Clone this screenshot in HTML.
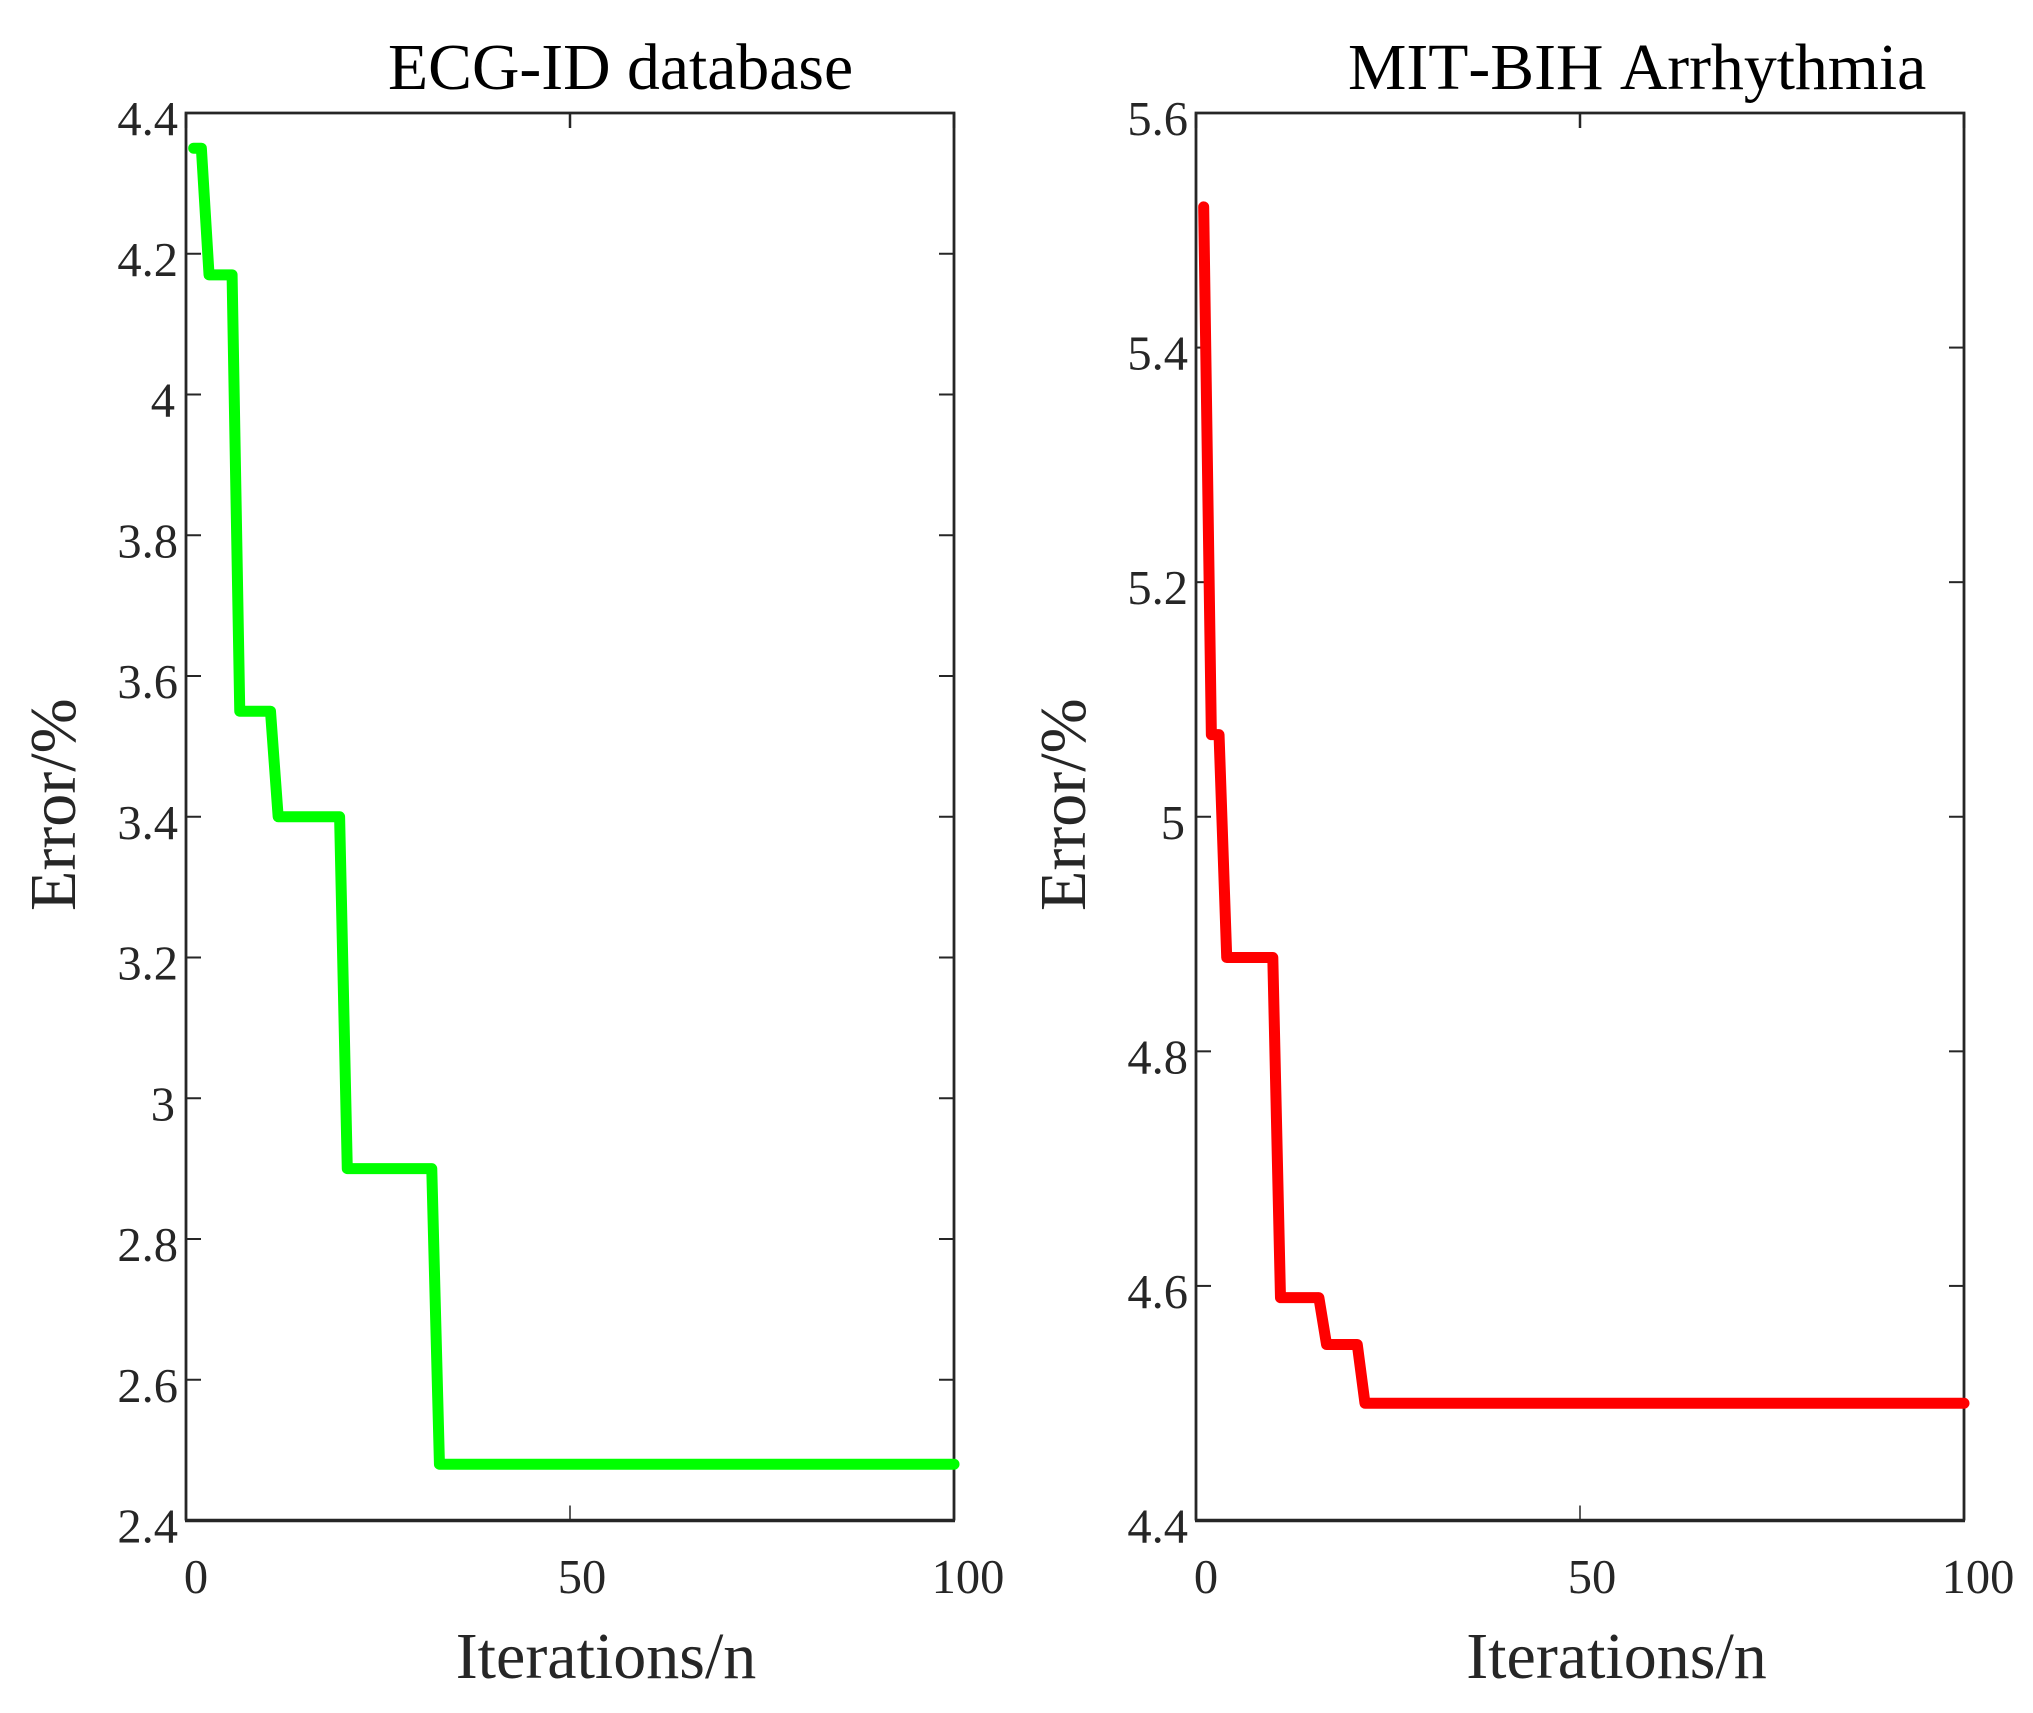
<!DOCTYPE html>
<html lang="en">
<head>
<meta charset="utf-8">
<title>ECG error convergence</title>
<style>
  html, body { margin: 0; padding: 0; background: #fff; }
  body { width: 2033px; height: 1713px; overflow: hidden; }
  svg { display: block; }
  text { font-family: "Liberation Serif", "Times New Roman", serif; font-kerning: none; }
  .tick-label { font-size: 48.5px; fill: #262626; }
  .axis-title { font-size: 66px; fill: #262626; }
  .chart-title { font-size: 65.7px; fill: #000; }
</style>
</head>
<body>
<svg id="chart" xmlns="http://www.w3.org/2000/svg" width="2033" height="1713" viewBox="0 0 2033 1713">
  <rect x="0" y="0" width="2033" height="1713" fill="#fff"/>
  <text class="chart-title" x="388" y="89">ECG-ID database</text>
  <text class="chart-title" x="1348" y="89">MIT-BIH Arrhythmia</text>
  <text class="axis-title" x="606" y="1678" text-anchor="middle">Iterations/n</text>
  <text class="axis-title" x="1616.5" y="1678" text-anchor="middle">Iterations/n</text>
  <text class="axis-title" transform="translate(75 911) rotate(-90)">Error/%</text>
  <text class="axis-title" transform="translate(1085 911) rotate(-90)">Error/%</text>
</svg>
<script>
const iterations = [1,2,3,4,5,6,7,8,9,10,11,12,13,14,15,16,17,18,19,20,21,22,23,24,25,26,27,28,29,30,31,32,33,34,35,36,37,38,39,40,41,42,43,44,45,46,47,48,49,50,51,52,53,54,55,56,57,58,59,60,61,62,63,64,65,66,67,68,69,70,71,72,73,74,75,76,77,78,79,80,81,82,83,84,85,86,87,88,89,90,91,92,93,94,95,96,97,98,99,100];
const ecgIdError = [4.35,4.35,4.17,4.17,4.17,4.17,3.55,3.55,3.55,3.55,3.55,3.4,3.4,3.4,3.4,3.4,3.4,3.4,3.4,3.4,2.9,2.9,2.9,2.9,2.9,2.9,2.9,2.9,2.9,2.9,2.9,2.9,2.48,2.48,2.48,2.48,2.48,2.48,2.48,2.48,2.48,2.48,2.48,2.48,2.48,2.48,2.48,2.48,2.48,2.48,2.48,2.48,2.48,2.48,2.48,2.48,2.48,2.48,2.48,2.48,2.48,2.48,2.48,2.48,2.48,2.48,2.48,2.48,2.48,2.48,2.48,2.48,2.48,2.48,2.48,2.48,2.48,2.48,2.48,2.48,2.48,2.48,2.48,2.48,2.48,2.48,2.48,2.48,2.48,2.48,2.48,2.48,2.48,2.48,2.48,2.48,2.48,2.48,2.48,2.48];
const mitBihError = [5.52,5.07,5.07,4.88,4.88,4.88,4.88,4.88,4.88,4.88,4.59,4.59,4.59,4.59,4.59,4.59,4.55,4.55,4.55,4.55,4.55,4.5,4.5,4.5,4.5,4.5,4.5,4.5,4.5,4.5,4.5,4.5,4.5,4.5,4.5,4.5,4.5,4.5,4.5,4.5,4.5,4.5,4.5,4.5,4.5,4.5,4.5,4.5,4.5,4.5,4.5,4.5,4.5,4.5,4.5,4.5,4.5,4.5,4.5,4.5,4.5,4.5,4.5,4.5,4.5,4.5,4.5,4.5,4.5,4.5,4.5,4.5,4.5,4.5,4.5,4.5,4.5,4.5,4.5,4.5,4.5,4.5,4.5,4.5,4.5,4.5,4.5,4.5,4.5,4.5,4.5,4.5,4.5,4.5,4.5,4.5,4.5,4.5,4.5,4.5];
const xTickValues = [0, 50, 100];
const leftYTicks = [2.4, 2.6, 2.8, 3, 3.2, 3.4, 3.6, 3.8, 4, 4.2, 4.4];
const leftYTickLabels = ['2.4', '2.6', '2.8', '3', '3.2', '3.4', '3.6', '3.8', '4', '4.2', '4.4'];
const rightYTicks = [4.4, 4.6, 4.8, 5, 5.2, 5.4, 5.6];
const rightYTickLabels = ['4.4', '4.6', '4.8', '5', '5.2', '5.4', '5.6'];

const NS = 'http://www.w3.org/2000/svg';
const svg = document.getElementById('chart');

function make(tag, attrs) {
  const el = document.createElementNS(NS, tag);
  for (const k in attrs) el.setAttribute(k, attrs[k]);
  svg.appendChild(el);
  return el;
}

function drawPanel(prefix, box, yMin, yMax, yTicks, yLabels, xs, ys, color) {
  const xScale = v => box.left + (v / 100) * (box.right - box.left);
  const yScale = v => box.bottom - ((v - yMin) / (yMax - yMin)) * (box.bottom - box.top);
  const axisColor = '#262626';

  yTicks.forEach((t, i) => {
    const y = yScale(t);
    const a = make('line', { x1: box.left, x2: box.left + 15, y1: y, y2: y, stroke: axisColor, 'stroke-width': 2 });
    
    
    const b = make('line', { x1: box.right - 15, x2: box.right, y1: y, y2: y, stroke: axisColor, 'stroke-width': 2 });
    
    
    const label = yLabels[i];
    const anchorX = box.left - 8 - (label.length === 1 ? 3 : 0);
    const txt = make('text', { x: anchorX, y: y + 22, 'text-anchor': 'end', class: 'tick-label' });
    txt.textContent = label;
    
    
  });

  xTickValues.forEach(t => {
    const x = xScale(t);
    const a = make('line', { x1: x, x2: x, y1: box.bottom - 15, y2: box.bottom, stroke: axisColor, 'stroke-width': 1.5 });
    
    
    const b = make('line', { x1: x, x2: x, y1: box.top, y2: box.top + 15, stroke: axisColor, 'stroke-width': 2.5 });
    
    
    const txt = make('text', { x: x + 10 + t * 0.04, y: 1593, 'text-anchor': 'middle', class: 'tick-label' });
    txt.textContent = String(t);
    
    
  });

  const sides = make('path', {
    d: 'M' + box.left + ' ' + box.bottom + 'V' + box.top + 'H' + box.right + 'V' + box.bottom,
    fill: 'none', stroke: axisColor, 'stroke-width': 2.8
  });
  
  
  const base = make('line', { x1: box.left - 1, x2: box.right + 1, y1: box.bottom, y2: box.bottom, stroke: axisColor, 'stroke-width': 3.5 });
  
  

  const d = xs.map((v, i) => (i ? 'L' : 'M') + xScale(v).toFixed(2) + ' ' + yScale(ys[i]).toFixed(2)).join('');
  const line = make('path', { d: d, fill: 'none', stroke: color, 'stroke-width': 11, 'stroke-linecap': 'round', 'stroke-linejoin': 'round' });
  
  
}

drawPanel('left', { left: 186, right: 954, top: 113, bottom: 1520.5 }, 2.4, 4.4, leftYTicks, leftYTickLabels, iterations, ecgIdError, '#00ff00');
drawPanel('right', { left: 1196, right: 1964, top: 113, bottom: 1520.5 }, 4.4, 5.6, rightYTicks, rightYTickLabels, iterations, mitBihError, '#ff0000');
</script>
</body>
</html>
